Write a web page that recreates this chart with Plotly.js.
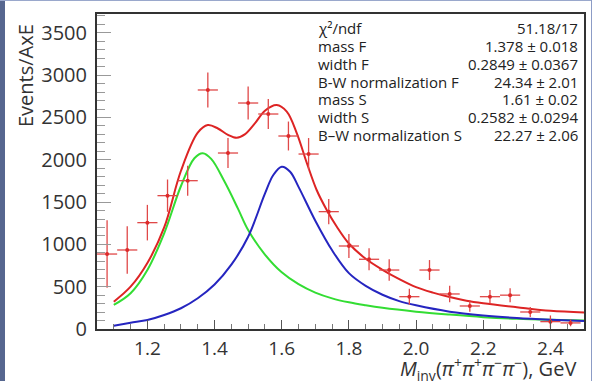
<!DOCTYPE html>
<html>
<head>
<meta charset="utf-8">
<script src="https://cdn.plot.ly/plotly-3.0.1.min.js"></script>
<style>
  html, body { margin: 0; padding: 0; background: #ffffff; }
  #wrap { position: relative; width: 603px; height: 381px; overflow: hidden; }
  #chart { position: absolute; left: 0; top: 0; width: 603px; height: 381px; }
  .bar-left { position: absolute; left: 0; top: 0; width: 5px; height: 381px; background: #56668f; z-index: 5; }
  .bar-top { position: absolute; left: 0; top: 0; width: 592px; height: 1px; background: #9aa8cc; z-index: 5; }
  .bar-right { position: absolute; left: 591px; top: 0; width: 1px; height: 381px; background: #8c9cc6; z-index: 5; }
</style>
</head>
<body>
<div id="wrap">
  <div id="chart"></div>
  <div class="bar-left"></div>
  <div class="bar-top"></div>
  <div class="bar-right"></div>
</div>
<script>
// ---- Data histogram (bin centres, counts, errors) ----
const binCenters = [1.08,1.14,1.20,1.26,1.32,1.38,1.44,1.50,1.56,1.62,1.68,1.74,
                    1.80,1.86,1.92,1.98,2.04,2.10,2.16,2.22,2.28,2.34,2.40,2.46];
const counts     = [886,934,1257,1576,1753,2825,2080,2671,2541,2281,2068,1387,
                    981,824,697,382,697,414,272,382,400,201,87,72];
const countErr   = [398,280,210,191,177,207,177,195,177,171,189,148,
                    142,130,128,95,118,98,69,80,83,58,73,40];
const binHalfWidth = [0.03,0.03,0.03,0.03,0.03,0.03,0.03,0.03,0.03,0.03,0.03,0.03,
                      0.03,0.03,0.03,0.03,0.03,0.03,0.03,0.03,0.03,0.03,0.03,0.03];

// ---- Total fit (red) ----
const totalX = [1.10,1.15,1.20,1.25,1.30,1.35,1.38,1.41,1.44,1.466,1.49,1.52,1.55,1.585,1.615,
                1.645,1.675,1.704,1.734,1.764,1.80,1.85,1.90,1.95,2.00,2.05,2.10,2.15,2.20,2.30,2.40,2.50];
const totalY = [323,500,780,1200,1870,2320,2410,2370,2295,2260,2300,2430,2580,2648,2570,
                2313,1959,1643,1407,1209,1010,830,700,590,495,430,378,335,305,258,215,195];

// ---- Component F (green) ----
const compFX = [1.10,1.15,1.20,1.25,1.30,1.34,1.365,1.39,1.43,1.47,1.50,1.55,1.60,1.65,1.70,
                1.75,1.80,1.85,1.90,2.00,2.10,2.20,2.30,2.40,2.50];
const compFY = [284,422,697,1131,1690,2018,2077,2010,1740,1420,1170,880,670,530,430,
                362,315,280,250,205,170,140,120,108,100];

// ---- Component S (blue) ----
const compSX = [1.10,1.15,1.20,1.25,1.30,1.35,1.40,1.45,1.50,1.55,1.575,1.60,1.625,1.65,1.70,
                1.75,1.80,1.85,1.90,1.95,2.00,2.10,2.20,2.30,2.40,2.50];
const compSY = [39,74,106,165,245,363,525,760,1090,1600,1820,1918,1859,1680,1280,
                930,660,510,405,330,280,205,160,130,110,95];

// ---- Stats box ----
const statNames  = ["\u03C7\u00B2/ndf","mass F","width F","B-W normalization F","mass S","width S","B\u2013W normalization S"];
const statValues = ["51.18/17","1.378 \u00B1 0.018","0.2849 \u00B1 0.0367","24.34 \u00B1 2.01","1.61 \u00B1 0.02","0.2582 \u00B1 0.0294","22.27 \u00B1 2.06"];

// ---- Axis ticks ----
const xTickVals = [1.2,1.4,1.6,1.8,2.0,2.2,2.4];
const xTickText = ["1.2","1.4","1.6","1.8","2.0","2.2","2.4"];
const yTickVals = [0,500,1000,1500,2000,2500,3000,3500];
const yTickText = ["0","500","1000","1500","2000","2500","3000","3500"];

const W = 603, H = 381;
const M = {l: 97, r: 19, t: 14, b: 52};
const plotW = W - M.l - M.r, plotH = H - M.t - M.b;
function px2paperX(px) { return (px - M.l) / plotW; }
function py2paperY(py) { return (H - M.b - py) / plotH; }

const traces = [
  {x: compFX, y: compFY, type: 'scatter', mode: 'lines', line: {color: '#33dd33', width: 2, shape: 'spline', smoothing: 1}, hoverinfo: 'skip'},
  {x: compSX, y: compSY, type: 'scatter', mode: 'lines', line: {color: '#2525c0', width: 2, shape: 'spline', smoothing: 1}, hoverinfo: 'skip'},
  {x: totalX, y: totalY, type: 'scatter', mode: 'lines', line: {color: '#dd2424', width: 2, shape: 'spline', smoothing: 1}, hoverinfo: 'skip'},
  {x: binCenters, y: counts, type: 'scatter', mode: 'markers',
   marker: {color: '#dd2a2a', size: 4},
   error_y: {type: 'data', array: countErr, visible: true, color: '#e04848', thickness: 1.3, width: 0},
   error_x: {type: 'data', array: binHalfWidth, visible: true, color: '#e04848', thickness: 1.3, width: 0}}
];

const annotations = [];
const rowY = [28.3, 46, 64, 81.7, 99.3, 117.3, 135];
for (let i = 0; i < statNames.length; i++) {
  annotations.push({xref: 'paper', yref: 'paper', x: px2paperX(317), y: py2paperY(rowY[i]),
    xanchor: 'left', yanchor: 'middle', text: statNames[i], showarrow: false, borderpad: 0,
    font: {family: 'Open Sans', size: 15, color: '#222'}});
  annotations.push({xref: 'paper', yref: 'paper', x: px2paperX(579), y: py2paperY(rowY[i]),
    xanchor: 'right', yanchor: 'middle', text: statValues[i], showarrow: false, borderpad: 0,
    font: {family: 'Open Sans', size: 15, color: '#222'}});
}
annotations.push({xref: 'paper', yref: 'paper', x: px2paperX(25), y: py2paperY(76),
  xanchor: 'center', yanchor: 'middle', textangle: -90, text: 'Events/AxE', showarrow: false,
  font: {family: 'Open Sans', size: 20, color: '#333'}});
annotations.push({xref: 'paper', yref: 'paper', x: px2paperX(578), y: py2paperY(369),
  xanchor: 'right', yanchor: 'middle',
  text: '<i>M</i><sub>inv</sub>(<i>\u03C0</i><sup>+</sup><i>\u03C0</i><sup>+</sup><i>\u03C0</i><sup>\u2212</sup><i>\u03C0</i><sup>\u2212</sup>), GeV',
  showarrow: false, font: {family: 'Open Sans', size: 20, color: '#333'}});

const layout = {
  width: W, height: H,
  margin: M,
  paper_bgcolor: '#ffffff', plot_bgcolor: '#ffffff',
  showlegend: false,
  font: {family: 'Open Sans', color: '#333'},
  xaxis: {
    range: [1.05, 2.5], tickvals: xTickVals, ticktext: xTickText,
    ticks: 'inside', ticklen: 9, tickwidth: 1, tickcolor: '#555',
    minor: {dtick: 0.05, tick0: 1.0, ticks: 'inside', ticklen: 5, tickcolor: '#777', tickwidth: 1, showgrid: false},
    showgrid: false, zeroline: false, showline: true, linecolor: '#333', linewidth: 2, mirror: true,
    tickfont: {family: 'Open Sans', size: 19, color: '#333'}, ticklabelstandoff: 1
  },
  yaxis: {
    range: [0, 3723], tickvals: yTickVals, ticktext: yTickText,
    ticks: 'inside', ticklen: 14, tickwidth: 1, tickcolor: '#999',
    minor: {dtick: 100, tick0: 0, ticks: 'inside', ticklen: 8, tickcolor: '#999', tickwidth: 1, showgrid: false},
    showgrid: false, zeroline: false, showline: true, linecolor: '#333', linewidth: 2, mirror: true,
    tickfont: {family: 'Open Sans', size: 20, color: '#333'}, ticklabelstandoff: 4
  },
  annotations: annotations
};

Plotly.newPlot('chart', traces, layout, {staticPlot: true, displayModeBar: false});
</script>
</body>
</html>
